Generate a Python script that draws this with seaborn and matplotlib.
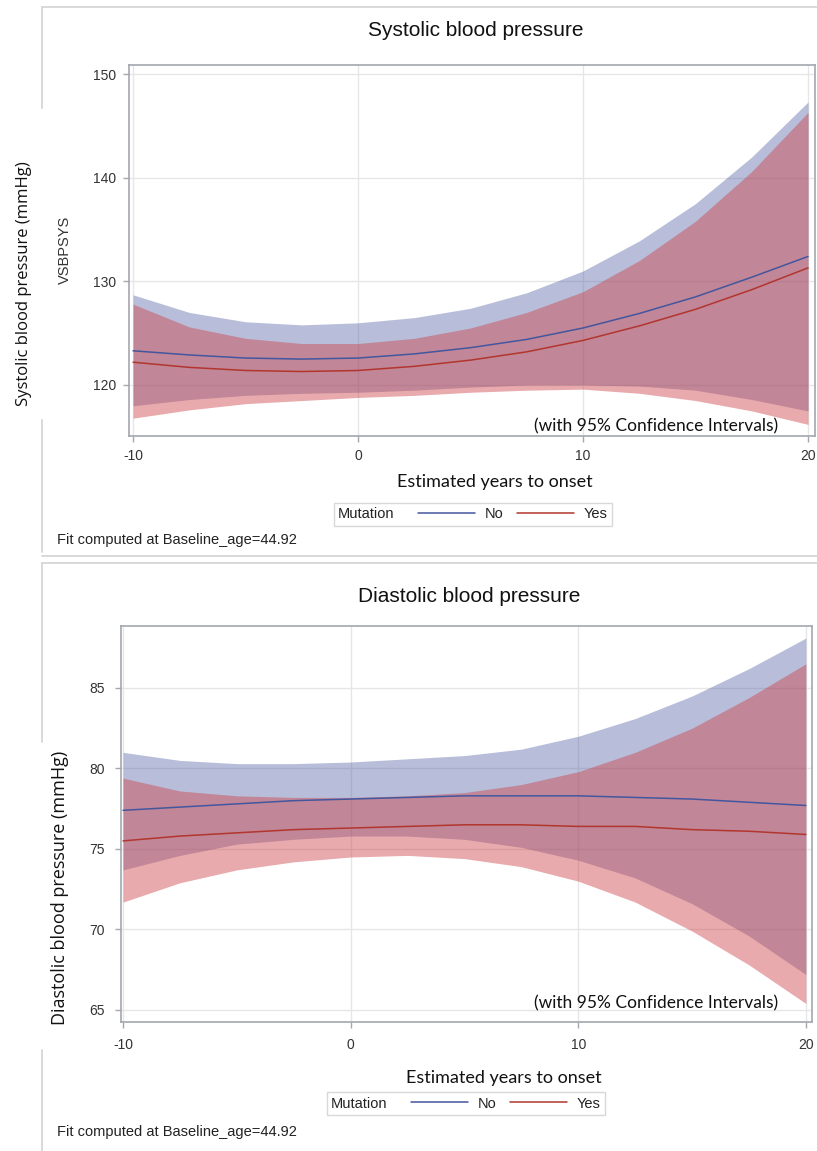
import numpy as np
import pandas as pd
import matplotlib
matplotlib.use("Agg")
import matplotlib.pyplot as plt
import seaborn as sns
from matplotlib.lines import Line2D
from matplotlib.offsetbox import HPacker

# ---------------- data ----------------
years = [-10, -7.5, -5, -2.5, 0, 2.5, 5, 7.5, 10, 12.5, 15, 17.5, 20]
groups = ["No", "Yes"]

# Systolic blood pressure (mmHg)
sys_no = [123.3, 122.9, 122.6, 122.5, 122.6, 123.0, 123.6, 124.4, 125.5, 126.9, 128.5, 130.4, 132.4]
sys_yes = [122.2, 121.7, 121.4, 121.3, 121.4, 121.8, 122.4, 123.2, 124.3, 125.7, 127.3, 129.2, 131.3]
sys_no_hi = [128.7, 127.0, 126.1, 125.8, 126.0, 126.5, 127.4, 128.9, 131.0, 133.9, 137.5, 142.0, 147.3]
sys_no_lo = [118.0, 118.6, 119.0, 119.2, 119.3, 119.5, 119.8, 120.0, 120.0, 119.9, 119.5, 118.6, 117.5]
sys_yes_hi = [127.8, 125.6, 124.5, 124.0, 124.0, 124.5, 125.5, 127.0, 129.0, 132.0, 135.8, 140.6, 146.3]
sys_yes_lo = [116.8, 117.6, 118.2, 118.5, 118.8, 119.0, 119.3, 119.5, 119.6, 119.2, 118.5, 117.5, 116.2]

# Diastolic blood pressure (mmHg)
dia_no = [77.4, 77.6, 77.8, 78.0, 78.1, 78.2, 78.3, 78.3, 78.3, 78.2, 78.1, 77.9, 77.7]
dia_yes = [75.5, 75.8, 76.0, 76.2, 76.3, 76.4, 76.5, 76.5, 76.4, 76.4, 76.2, 76.1, 75.9]
dia_no_hi = [81.0, 80.5, 80.3, 80.3, 80.4, 80.6, 80.8, 81.2, 82.0, 83.1, 84.5, 86.2, 88.1]
dia_no_lo = [73.7, 74.6, 75.3, 75.6, 75.8, 75.8, 75.6, 75.1, 74.3, 73.2, 71.6, 69.6, 67.2]
dia_yes_hi = [79.4, 78.6, 78.3, 78.2, 78.2, 78.3, 78.5, 79.0, 79.8, 81.0, 82.5, 84.4, 86.5]
dia_yes_lo = [71.7, 72.9, 73.7, 74.2, 74.5, 74.6, 74.4, 73.9, 73.0, 71.7, 69.9, 67.8, 65.4]

x_ticks = [-10, 0, 10, 20]
sys_ticks = [120, 130, 140, 150]
dia_ticks = [65, 70, 75, 80, 85]

# ---------------- style ----------------
line_colors = {"No": "#44569e", "Yes": "#b2362e"}
band_colors = {"No": "#4e5ca2", "Yes": "#cc4347"}
band_alpha = {"No": 0.40, "Yes": 0.45}
spine_col = "#a4a7b0"
grid_col = "#e6e6e6"

sns.set_theme(style="white")
plt.rcParams["font.family"] = ["Liberation Sans", "DejaVu Sans"]
plt.rcParams["axes.unicode_minus"] = False

W, H = 817, 1151
fig = plt.figure(figsize=(W / 100, H / 100), dpi=100)
fig.patch.set_facecolor("white")


def px_rect(l, t, r, b):
    return [l / W, 1 - b / H, (r - l) / W, (b - t) / H]


def fx(x):
    return x / W


def fy(y):
    return 1 - y / H


def draw_panel(ax, mid, lo, hi, xlim, ylim, yticks, tick_fs):
    for g in groups:
        ax.fill_between(years, lo[g], hi[g], color=band_colors[g],
                        alpha=band_alpha[g], lw=0, zorder=2)
    df = pd.DataFrame({
        "x": years * len(groups),
        "y": sum((mid[g] for g in groups), []),
        "Mutation": sum(([g] * len(years) for g in groups), []),
    })
    sns.lineplot(data=df, x="x", y="y", hue="Mutation", palette=line_colors,
                 ax=ax, legend=False, lw=1.1, zorder=3)
    ax.set_xlim(*xlim)
    ax.set_ylim(*ylim)
    ax.set_xticks(x_ticks)
    ax.set_yticks(yticks)
    ax.set_xlabel("")
    ax.set_ylabel("")
    ax.grid(True, color=grid_col, lw=1)
    ax.set_axisbelow(True)
    for s in ax.spines.values():
        s.set_visible(True)
        s.set_color(spine_col)
        s.set_linewidth(1.2)
    ax.tick_params(direction="out", length=4.5, width=1, color=spine_col,
                   pad=5, labelsize=tick_fs, labelcolor="#333333",
                   bottom=True, left=True)


def make_legend(ax, cx, cy):
    handles = [Line2D([], [], color=line_colors[g], lw=1.1) for g in groups]
    leg = ax.legend(handles, groups, title="Mutation", ncol=2, loc="center",
                    bbox_to_anchor=(fx(cx), fy(cy)), bbox_transform=fig.transFigure,
                    frameon=True, fancybox=False, edgecolor="#cfcfcf",
                    fontsize=10.5, title_fontsize=10.5, handlelength=3.9,
                    handletextpad=0.7, columnspacing=0.9, borderpad=0.3,
                    borderaxespad=0)
    leg.get_frame().set_linewidth(1)
    for t in leg.get_texts():
        t.set_color("#222222")
    leg.get_title().set_color("#222222")
    try:
        fs = leg._fontsize
        box = HPacker(pad=leg.borderpad * fs, sep=1.6 * fs, align="center",
                      children=[leg._legend_title_box, leg._legend_handle_box])
        box.set_figure(fig)
        box.axes = ax
        box.set_offset(leg._findoffset)
        leg._legend_box = box
    except Exception:
        pass
    return leg


# ---------------- top panel ----------------
ax1 = fig.add_axes(px_rect(129, 65, 815, 436))
draw_panel(ax1,
           {"No": sys_no, "Yes": sys_yes},
           {"No": sys_no_lo, "Yes": sys_yes_lo},
           {"No": sys_no_hi, "Yes": sys_yes_hi},
           (-10.18, 20.31), (115.08, 150.87), sys_ticks, 10)
ax1.text(0.768, 0.004, "(with 95% Confidence Intervals)", transform=ax1.transAxes,
         ha="center", va="bottom", fontsize=12.5, family=["Lato", "DejaVu Sans"],
         color="#111111")

# ---------------- bottom panel ----------------
ax2 = fig.add_axes(px_rect(121, 626, 812, 1022))
draw_panel(ax2,
           {"No": dia_no, "Yes": dia_yes},
           {"No": dia_no_lo, "Yes": dia_yes_lo},
           {"No": dia_no_hi, "Yes": dia_yes_hi},
           (-10.09, 20.27), (64.25, 88.85), dia_ticks, 10)
ax2.tick_params(pad=7)
ax2.text(0.774, 0.027, "(with 95% Confidence Intervals)", transform=ax2.transAxes,
         ha="center", va="bottom", fontsize=12.5, family=["Lato", "DejaVu Sans"],
         color="#111111")

# ---------------- titles and labels ----------------
fig.text(fx(476), fy(30), "Systolic blood pressure", ha="center", va="center",
         fontsize=15, color="#111111")
fig.text(fx(469), fy(597), "Diastolic blood pressure", ha="center", va="center",
         fontsize=15, color="#111111")

fig.text(fx(495), fy(482), "Estimated years to onset", ha="center", va="center",
         fontsize=13, family=["Lato", "DejaVu Sans"], color="#111111")
fig.text(fx(504), fy(1078), "Estimated years to onset", ha="center", va="center",
         fontsize=13, family=["Lato", "DejaVu Sans"], color="#111111")

fig.text(fx(24), fy(284), "Systolic blood pressure (mmHg)", rotation=90,
         ha="center", va="center", fontsize=12, family=["Open Sans", "DejaVu Sans"],
         color="#111111")
fig.text(fx(60), fy(888), "Diastolic blood pressure (mmHg)", rotation=90,
         ha="center", va="center", fontsize=13, family=["Open Sans", "DejaVu Sans"],
         color="#111111")
fig.text(fx(65), fy(250), "VSBPSYS", rotation=90, ha="center", va="center",
         fontsize=10.5, color="#333333")

fig.text(fx(57), fy(540), "Fit computed at Baseline_age=44.92", ha="left",
         va="center", fontsize=10.5, color="#222222")
fig.text(fx(57), fy(1132), "Fit computed at Baseline_age=44.92", ha="left",
         va="center", fontsize=10.5, color="#222222")

make_legend(ax1, 473, 514.5)
make_legend(ax2, 466, 1103.5)

# ---------------- panel borders ----------------
border_col = "#d6d6d6"
segments = [
    ((42, 817), (7, 7)),
    ((42, 42), (7, 108)),
    ((42, 42), (420, 552)),
    ((42, 817), (556, 556)),
    ((42, 817), (563, 563)),
    ((42, 42), (563, 742)),
    ((42, 42), (1050, 1151)),
]
for xs, ys in segments:
    fig.add_artist(Line2D([fx(x) for x in xs], [fy(y) for y in ys],
                          transform=fig.transFigure, color=border_col, lw=1.3))

fig.savefig("out.png", dpi=100, facecolor="white")
